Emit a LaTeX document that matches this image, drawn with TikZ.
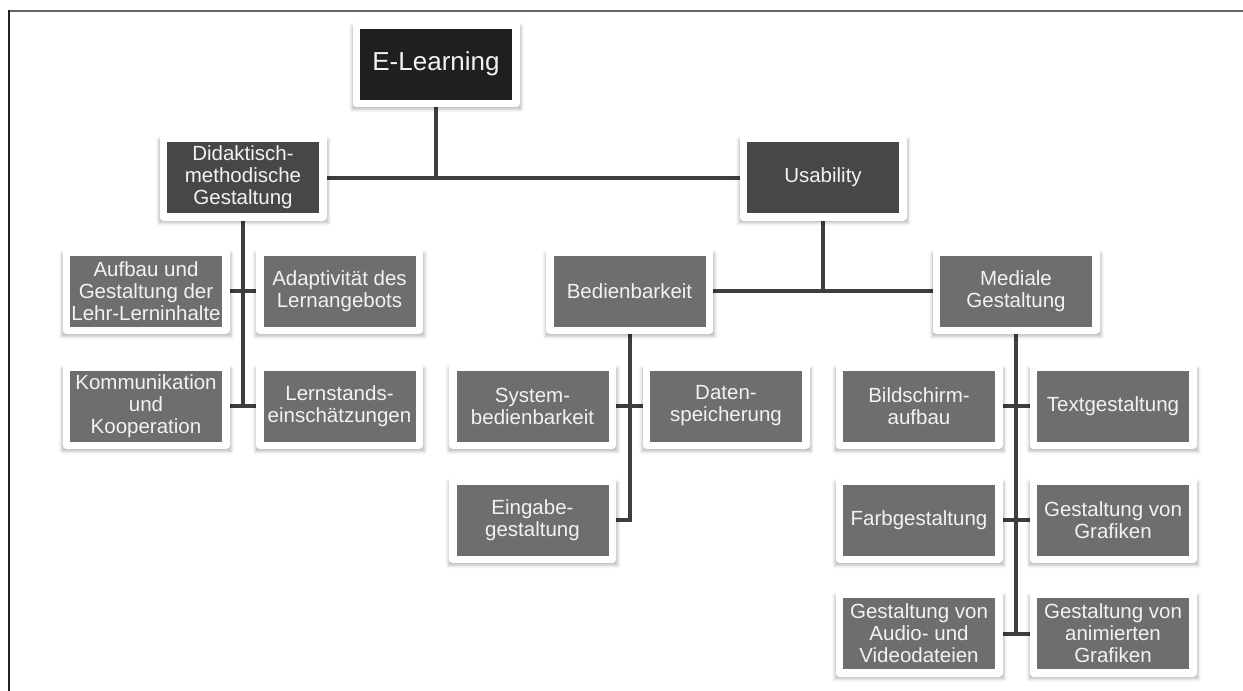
\documentclass[tikz,border=0pt]{standalone}
\usepackage{fontspec}
\setmainfont{Liberation Sans}
\usetikzlibrary{backgrounds,shadows.blur}

\definecolor{topbox}{HTML}{1F1F1F}
\definecolor{midbox}{HTML}{474747}
\definecolor{lowbox}{HTML}{6E6E6E}
\definecolor{linkgray}{HTML}{3E3E3E}
\definecolor{labelwhite}{HTML}{F2F2F2}
\definecolor{frametop}{HTML}{666666}
\definecolor{frameleft}{HTML}{222222}

\begin{document}
\begin{tikzpicture}[x=1pt,y=-1pt,
  card/.style={rectangle, draw=white, line width=7.5pt, line join=round,
    minimum width=159.5pt, minimum height=78.5pt, inner sep=0pt,
    align=center, text=labelwhite,
    font=\fontsize{20.5}{22}\selectfont,
    blur shadow={shadow scale=1.06, shadow xshift=0.5pt, shadow yshift=-3.5pt,
      shadow blur radius=3pt, shadow opacity=28}},
  toplevel/.style={card, fill=topbox, font=\fontsize{26}{28}\selectfont},
  midlevel/.style={card, fill=midbox},
  lowlevel/.style={card, fill=lowbox},
  link/.style={draw=linkgray, line width=4pt}]

\useasboundingbox (0,0) rectangle (1243,691);

% frame
\draw[frametop, line width=2pt] (8,11) -- (1243,11);
\draw[frameleft, line width=2pt] (9,10) -- (9,691);

% root and first level
\node[toplevel] (el)  at (436,64)    {E-Learning};
\node[midlevel] (did) at (243,177.5) {Didaktisch-\\methodische\\Gestaltung};
\node[midlevel] (usa) at (823,177.5) {Usability};

% didactic branch
\node[lowlevel] (auf) at (146,291)   {Aufbau und\\Gestaltung der\\Lehr-Lerninhalte};
\node[lowlevel] (ada) at (339.5,291) {Adaptivität des\\Lernangebots};
\node[lowlevel] (kom) at (146,406)   {Kommunikation\\und\\Kooperation};
\node[lowlevel] (ler) at (339.5,406) {Lernstands-\\einschätzungen};

% usability branch
\node[lowlevel] (bed) at (629.5,291) {Bedienbarkeit};
\node[lowlevel] (med) at (1016,291)  {Mediale\\Gestaltung};

\node[lowlevel] (sys) at (532.5,406) {System-\\bedienbarkeit};
\node[lowlevel] (dat) at (726,406)   {Daten-\\speicherung};
\node[lowlevel] (ein) at (532.5,520) {Eingabe-\\gestaltung};

\node[lowlevel] (bil) at (919,406)   {Bildschirm-\\aufbau};
\node[lowlevel] (tex) at (1113,406)  {Textgestaltung};
\node[lowlevel] (far) at (919,520)   {Farbgestaltung};
\node[lowlevel] (gra) at (1113,520)  {Gestaltung von\\Grafiken};
\node[lowlevel] (aud) at (919,633.5) {Gestaltung von\\Audio- und\\Videodateien};
\node[lowlevel] (ani) at (1113,633.5){Gestaltung von\\animierten\\Grafiken};

% connectors behind the cards
\begin{scope}[on background layer]
  \draw[link] (el.south) -- (el.south |- did.east);
  \draw[link] (did.east) -- (usa.west);

  \draw[link] (did.south) -- (did.south |- kom.east);
  \draw[link] (auf.east) -- (ada.west);
  \draw[link] (kom.east) -- (ler.west);

  \draw[link] (usa.south) -- (usa.south |- bed.east);
  \draw[link] (bed.east) -- (med.west);

  \draw[link] (bed.south) |- (ein.east);
  \draw[link] (sys.east) -- (dat.west);

  \draw[link] (med.south) -- (med.south |- aud.east);
  \draw[link] (bil.east) -- (tex.west);
  \draw[link] (far.east) -- (gra.west);
  \draw[link] (aud.east) -- (ani.west);
\end{scope}
\end{tikzpicture}
\end{document}
